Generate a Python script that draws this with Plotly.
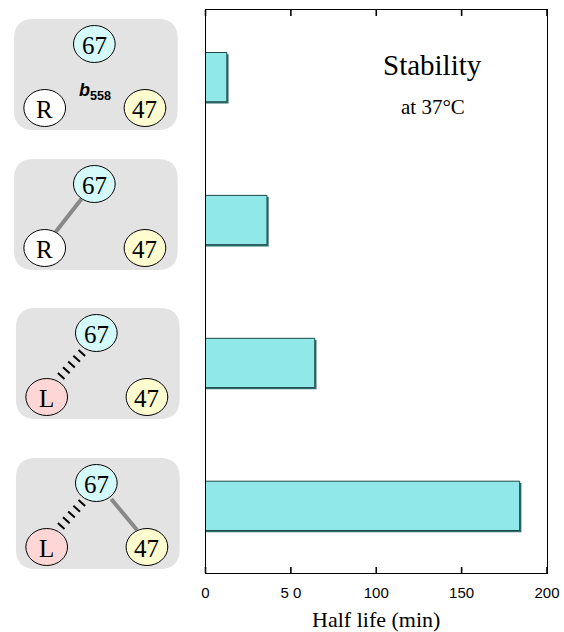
import numpy as np
import plotly.graph_objects as go

# ---- data ----
constructs = ["b558 R-67-47", "R—67, 47", "L~67, 47", "L~67—47"]
half_life = [12.5, 36, 64, 184]
x_ticks = [0, 50, 100, 150, 200]
x_tick_labels = ["0", "5 0", "100", "150", "200"]
left_labels = ["R", "R", "L", "L"]
left_colors = ["#FFFFFF", "#FFFFFF", "#FFD6D6", "#FFD6D6"]
link_67_left = [None, "solid", "hatch", "hatch"]
link_67_47 = [None, None, None, "solid"]

W, H = 564, 632
ML, MR, MT, MB = 0, 17, 10, 59
plot_w = W - ML - MR
plot_h = H - MT - MB
y_pos = list(range(len(constructs)))
Y_RANGE = [3.47, -0.47]
X_RANGE = [0, 200]
AX_LEFT_PX = 203

fig = go.Figure()

# shadow bars
fig.add_trace(go.Bar(
    y=y_pos, x=[v + 1.0 for v in half_life], orientation="h",
    width=0.345, offset=-0.1725 + 0.012,
    marker=dict(color="#2F6F6F", line=dict(width=0)),
    hoverinfo="skip", showlegend=False, xaxis="x", yaxis="y"))
# main bars
fig.add_trace(go.Bar(
    y=y_pos, x=half_life, orientation="h",
    width=0.345, offset=-0.1725,
    marker=dict(color="#90E8E8", line=dict(color="#1E4848", width=1)),
    showlegend=False, xaxis="x", yaxis="y"))

# invisible trace for the diagram axis
fig.add_trace(go.Scatter(x=[0, 190], y=[10, 573], mode="markers",
                         marker=dict(opacity=0), hoverinfo="skip",
                         showlegend=False, xaxis="x2", yaxis="y2"))

shapes = []
annotations = []

# inside tick marks drawn as thin filled rectangles in paper coordinates
axis_w_px = W - MR - AX_LEFT_PX
for v in x_ticks:
    px = AX_LEFT_PX + (v - X_RANGE[0]) / (X_RANGE[1] - X_RANGE[0]) * axis_w_px
    x0 = (px - 0.8 - ML) / plot_w
    x1 = (px + 0.8 - ML) / plot_w
    h = 6 / plot_h
    shapes.append(dict(type="rect", xref="paper", yref="paper", x0=x0, x1=x1, y0=0, y1=h,
                       fillcolor="black", line=dict(width=0), layer="above"))
    shapes.append(dict(type="rect", xref="paper", yref="paper", x0=x0, x1=x1, y0=1 - h, y1=1,
                       fillcolor="black", line=dict(width=0), layer="above"))

def rounded_rect(x0, y0, x1, y1, r):
    return (f"M {x0+r},{y0} L {x1-r},{y0} Q {x1},{y0} {x1},{y0+r} "
            f"L {x1},{y1-r} Q {x1},{y1} {x1-r},{y1} L {x0+r},{y1} "
            f"Q {x0},{y1} {x0},{y1-r} L {x0},{y0+r} Q {x0},{y0} {x0+r},{y0} Z")

box_tops = [19, 159, 308, 458]
box_lefts = [10, 10, 12, 12]
BW, BH = 165, 111
RX, RY = 21, 18.5

def ellipse(cx, cy, fill, label):
    shapes.append(dict(type="circle", xref="x2", yref="y2",
                       x0=cx - RX, x1=cx + RX, y0=cy - RY, y1=cy + RY,
                       fillcolor=fill, line=dict(color="black", width=1), layer="above"))
    annotations.append(dict(x=cx, y=cy + 1, xref="x2", yref="y2", text=label,
                            xanchor="center", yanchor="middle",
                            showarrow=False, font=dict(family="Liberation Serif", size=25, color="black")))

for i in range(len(constructs)):
    bx, by = box_lefts[i], box_tops[i]
    shapes.append(dict(type="path", xref="x2", yref="y2",
                       path=rounded_rect(bx, by, bx + BW, by + BH, 20),
                       fillcolor="#E3E3E3", line=dict(width=0), layer="below"))
    c67 = (bx + 81, by + 25)
    cl = (bx + 31, by + 89)
    c47 = (bx + 132, by + 89)
    if link_67_left[i] == "solid":
        shapes.append(dict(type="line", xref="x2", yref="y2",
                           x0=cl[0] + 11, y0=cl[1] - 16, x1=c67[0] - 13, y1=c67[1] + 15,
                           line=dict(color="#888888", width=4), layer="above"))
    elif link_67_left[i] == "hatch":
        p0 = np.array([cl[0] + 12, cl[1] - 18.0])
        p1 = np.array([c67[0] - 12, c67[1] + 17.0])
        d = p1 - p0
        d = d / np.linalg.norm(d)
        n = np.array([-d[1], d[0]])
        for t in np.linspace(0.1, 0.9, 5):
            c = p0 + (p1 - p0) * t
            a, b = c - n * 4.5, c + n * 4.5
            shapes.append(dict(type="line", xref="x2", yref="y2",
                               x0=a[0], y0=a[1], x1=b[0], y1=b[1],
                               line=dict(color="black", width=2), layer="above"))
    if link_67_47[i] == "solid":
        shapes.append(dict(type="line", xref="x2", yref="y2",
                           x0=c67[0] + 15, y0=c67[1] + 16, x1=c47[0] - 10, y1=c47[1] - 17,
                           line=dict(color="#888888", width=4), layer="above"))
    ellipse(*c67, "#D4FAFA", "67")
    ellipse(*cl, left_colors[i], left_labels[i])
    ellipse(*c47, "#FFFCCF", "47")
    if i == 0:
        annotations.append(dict(x=bx + 82, y=by + 72, xref="x2", yref="y2",
                                xanchor="center", yanchor="middle",
                                text="<b><i>b</i><sub>558</sub></b>", showarrow=False,
                                font=dict(family="Liberation Sans", size=18, color="black")))

annotations.append(dict(x=(432 - ML) / plot_w, y=1 - (65 - MT) / plot_h,
                        xref="paper", yref="paper", text="Stability", showarrow=False,
                        xanchor="center", yanchor="middle",
                        font=dict(family="Liberation Serif", size=29, color="black")))
annotations.append(dict(x=(432 - ML) / plot_w, y=1 - (107 - MT) / plot_h,
                        xref="paper", yref="paper", text="at 37°C", showarrow=False,
                        xanchor="center", yanchor="middle",
                        font=dict(family="Liberation Serif", size=21, color="black")))

fig.update_layout(
    width=W, height=H,
    margin=dict(l=ML, r=MR, t=MT, b=MB),
    paper_bgcolor="white", plot_bgcolor="white",
    barmode="overlay", showlegend=False,
    shapes=shapes, annotations=annotations,
    xaxis=dict(domain=[(AX_LEFT_PX - ML) / plot_w, 1], range=X_RANGE,
               tickmode="array", tickvals=x_ticks, ticktext=x_tick_labels,
               ticks="", showline=True, linecolor="black", linewidth=1, mirror=True,
               showgrid=False, zeroline=False, ticklabelstandoff=6,
               tickfont=dict(family="Liberation Sans", size=15, color="black"),
               title=dict(text="Half life (min)", standoff=16,
                          font=dict(family="Liberation Serif", size=22, color="black"))),
    yaxis=dict(domain=[0, 1], range=Y_RANGE, showticklabels=False,
               ticks="", showline=True, linecolor="black", linewidth=1, mirror=True,
               showgrid=False, zeroline=False),
    xaxis2=dict(domain=[0, 190 / plot_w], range=[0, 190], visible=False, anchor="y2"),
    yaxis2=dict(domain=[0, 1], range=[573, 10], visible=False, anchor="x2"),
)

fig.write_html("out.html", config={"displayModeBar": False},
               post_script="document.body.style.margin='0';")
